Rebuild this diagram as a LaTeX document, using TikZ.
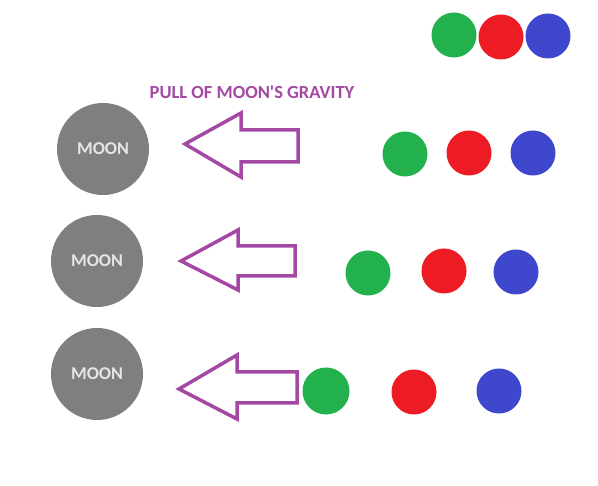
\documentclass[tikz,border=0pt]{standalone}
\usepackage{fontspec}
\setmainfont{Carlito}
\definecolor{pullpurple}{HTML}{A349A4}
\definecolor{moongray}{HTML}{7F7F7F}
\definecolor{moontext}{HTML}{E6E6E6}
\definecolor{ballgreen}{HTML}{22B14C}
\definecolor{ballred}{HTML}{ED1C24}
\definecolor{ballblue}{HTML}{3F48CC}
\tikzset{moonbox/.style={
    circle,
    fill=moongray,
    text=moontext,
    font=\fontsize{18}{20}\selectfont\bfseries,
    minimum size=92pt,
    inner sep=0pt
  },
  ballbox/.style={circle,minimum size=45pt,inner sep=0pt},
  gball/.style={ballbox,fill=ballgreen},
  rball/.style={ballbox,fill=ballred},
  bball/.style={ballbox,fill=ballblue},
  pullarrow/.style={draw=pullpurple,line width=3.5pt,line join=miter},
}
\begin{document}
\begin{tikzpicture}[x=1pt,y=-1pt]
  \useasboundingbox (0,0) rectangle (598,486);
  % balls far away
  \node [gball] (g0) at (454,35) {};
  \node [rball] (r0) at (501,37) {};
  \node [bball] (b0) at (548,36) {};
  % label
  \node [text=pullpurple,font=\fontsize{18.5}{22}\selectfont\bfseries] (pull) at (252,92) {PULL OF MOON\textquotesingle S GRAVITY};
  % row 1
  \node [moonbox] (moon1) at (103,149) {MOON};
  \draw [pullarrow] (185,144) -- (241,113) -- (241,130) -- (298,130) -- (298,162) -- (241,162) -- (241,177) -- cycle;
  \node [gball] (g1) at (405,154) {};
  \node [rball] (r1) at (469,153) {};
  \node [bball] (b1) at (533,153) {};
  % row 2
  \node [moonbox] (moon2) at (97,261) {MOON};
  \draw [pullarrow] (181,261) -- (238,230) -- (238,246) -- (295,246) -- (295,276) -- (238,276) -- (238,290) -- cycle;
  \node [gball] (g2) at (368,273) {};
  \node [rball] (r2) at (444,271) {};
  \node [bball] (b2) at (516,272) {};
  % row 3
  \node [moonbox] (moon3) at (97,374) {MOON};
  \draw [pullarrow] (179,389) -- (237,355) -- (237,372) -- (297,372) -- (297,403) -- (237,403) -- (237,419) -- cycle;
  \node [gball,minimum size=47pt] (g3) at (326,391) {};
  \node [rball] (r3) at (414,392) {};
  \node [bball] (b3) at (499,391) {};
\end{tikzpicture}
\end{document}
